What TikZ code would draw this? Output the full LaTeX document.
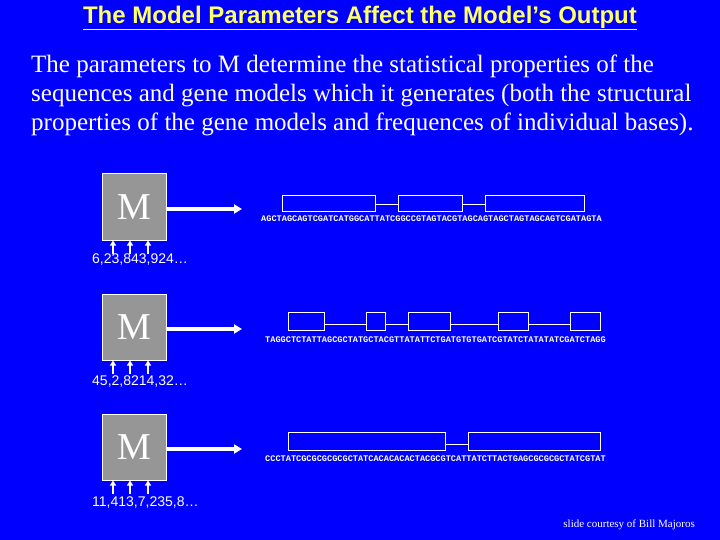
\documentclass[tikz,border=0pt]{standalone}
\usepackage{fontspec}
\setmainfont{Liberation Serif}
\newfontfamily\sansf{Liberation Sans}
\newfontfamily\monof{Liberation Mono}
\usetikzlibrary{arrows.meta}
\definecolor{bg}{RGB}{0,0,255}
\definecolor{ttl}{RGB}{255,255,102}
\definecolor{mbox}{RGB}{150,150,150}
\begin{document}
\begin{tikzpicture}[x=1pt,y=-1pt,
  mod/.style={draw=white,line width=1pt,fill=mbox,minimum width=64pt,minimum height=66pt,inner sep=0pt,text=white,font=\fontsize{38}{38}\selectfont},
  exon/.style={draw=white,line width=0.8pt},
  seq/.style={anchor=west,text=white,inner sep=0pt,font=\monof\bfseries\fontsize{8.6}{10}\selectfont},
  par/.style={anchor=west,text=white,inner sep=0pt,font=\sansf\fontsize{14}{14}\selectfont},
  big/.style={-{Triangle[length=8pt,width=9pt]},white,line width=4pt},
  sm/.style={-{Triangle[length=5pt,width=6pt]},white,line width=1.8pt}]
\fill[bg] (0,0) rectangle (720,540);
\useasboundingbox (0,0) rectangle (720,540);
\node[text=ttl,font=\sansf\bfseries\fontsize{24}{24}\selectfont,inner sep=0pt] (title) at (360,18) {\underline{The Model Parameters Affect the Model’s Output}};
\node[anchor=north west,text=white,align=left,inner sep=0pt,font=\fontsize{25}{29}\selectfont] (body) at (31,55) {The parameters to M determine the statistical properties of the\\sequences and gene models which it generates (both the structural\\properties of the gene models and frequences of individual bases).};
% row 1
\node[mod] (m1) at (134,207) {M};
\coordinate (e1) at (242,209);
\draw[big] (m1.east |- e1) -- (e1);
\foreach \x in {113,130,148}{\draw[sm] (\x,254) -- (m1.south -| \x,0);}
\node[par] (p1) at (92,260) {6,23,843,924…};
\draw[exon] (282,195) rectangle (375,211) (398,195) rectangle (462,211) (485,195) rectangle (584,211);
\draw[exon] (375,204) -- (398,204) (462,204) -- (485,204);
\node[seq] (s1) at (261,219) {AGCTAGCAGTCGATCATGGCATTATCGGCCGTAGTACGTAGCAGTAGCTAGTAGCAGTCGATAGTA};
% row 2
\node[mod] (m2) at (134,327) {M};
\coordinate (e2) at (242,329);
\draw[big] (m2.east |- e2) -- (e2);
\foreach \x in {113,130,148}{\draw[sm] (\x,374) -- (m2.south -| \x,0);}
\node[par] (p2) at (92,382) {45,2,8214,32…};
\draw[exon] (288,312) rectangle (324,330) (366,312) rectangle (385,330) (408,312) rectangle (450,330) (498,312) rectangle (528,330) (570,312) rectangle (600,330);
\draw[exon] (324,324) -- (366,324) (385,324) -- (408,324) (450,324) -- (498,324) (528,324) -- (570,324);
\node[seq] (s2) at (265,340) {TAGGCTCTATTAGCGCTATGCTACGTTATATTCTGATGTGTGATCGTATCTATATATCGATCTAGG};
% row 3
\node[mod] (m3) at (134,447) {M};
\coordinate (e3) at (242,449);
\draw[big] (m3.east |- e3) -- (e3);
\foreach \x in {113,130,148}{\draw[sm] (\x,494) -- (m3.south -| \x,0);}
\node[par] (p3) at (92,503) {11,413,7,235,8…};
\draw[exon] (288,432) rectangle (445,450) (468,432) rectangle (600,450);
\draw[exon] (445,444) -- (468,444);
\node[seq] (s3) at (265,459) {CCCTATCGCGCGCGCGCTATCACACACACTACGCGTCATTATCTTACTGAGCGCGCGCTATCGTAT};
\node[anchor=east,text=white,inner sep=0pt,font=\fontsize{11}{11}\selectfont] (cr) at (695,525) {slide courtesy of Bill Majoros};
\end{tikzpicture}
\end{document}
